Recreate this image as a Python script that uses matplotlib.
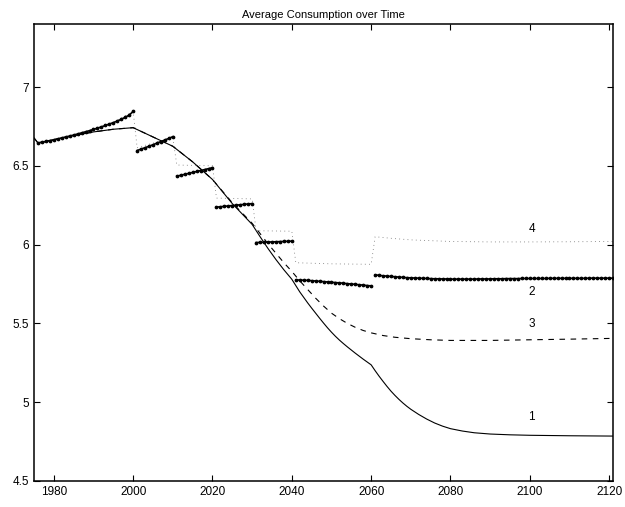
import numpy as np
import matplotlib.pyplot as plt

plt.rcParams['font.family'] = ['Liberation Sans', 'DejaVu Sans']

# series 1 (solid)
yr1 = [1975, 1976, 1980, 1985, 1990, 1995, 2000, 2005, 2010, 2015, 2020, 2025, 2030,
       2032, 2034, 2036, 2038, 2040, 2041, 2042, 2043, 2044, 2045, 2046, 2047, 2048, 2049,
       2050, 2051, 2052, 2053, 2054, 2055, 2056, 2057, 2058, 2059, 2060, 2061, 2062, 2063,
       2064, 2065, 2066, 2067, 2068, 2069, 2070, 2072, 2074, 2076, 2078, 2080, 2083, 2086,
       2090, 2095, 2100, 2110, 2121]
c1 = [6.677, 6.645, 6.665, 6.692, 6.715, 6.732, 6.742, 6.683, 6.624, 6.525, 6.413, 6.26, 6.128,
      6.05, 5.975, 5.905, 5.84, 5.78, 5.74, 5.70, 5.665, 5.630, 5.597, 5.565, 5.533, 5.502, 5.472,
      5.444, 5.418, 5.394, 5.372, 5.351, 5.331, 5.311, 5.292, 5.273, 5.255, 5.237, 5.20, 5.165, 5.132,
      5.10, 5.07, 5.043, 5.018, 4.995, 4.974, 4.955, 4.922, 4.893, 4.868, 4.848, 4.832, 4.817, 4.806,
      4.798, 4.793, 4.79, 4.787, 4.785]

# series 3 (dashed)
yr3 = [1975, 1976, 1980, 1985, 1990, 1995, 2000, 2005, 2010, 2015, 2020, 2025, 2030,
       2032, 2034, 2036, 2038, 2040, 2042, 2044, 2046, 2048, 2050, 2052, 2054, 2056, 2058,
       2060, 2063, 2066, 2070, 2075, 2080, 2090, 2100, 2110, 2121]
c3 = [6.677, 6.645, 6.665, 6.692, 6.715, 6.732, 6.742, 6.683, 6.624, 6.525, 6.413, 6.265, 6.135,
      6.07, 6.005, 5.945, 5.885, 5.83, 5.77, 5.715, 5.66, 5.61, 5.565, 5.53, 5.50, 5.475, 5.455,
      5.44, 5.423, 5.412, 5.403, 5.396, 5.392, 5.392, 5.396, 5.40, 5.405]

# series 4 (dotted)
yr4 = [1976, 1980, 1985, 1990, 1995, 2000, 2001, 2010, 2011, 2020, 2021, 2030, 2031, 2040,
       2041, 2050, 2060, 2061, 2065, 2070, 2080, 2090, 2100, 2110, 2121]
c4 = [6.645, 6.665, 6.695, 6.731, 6.774, 6.845, 6.615, 6.68, 6.505, 6.50, 6.295, 6.29, 6.088, 6.085,
      5.885, 5.878, 5.875, 6.05, 6.04, 6.03, 6.02, 6.017, 6.017, 6.018, 6.02]

# series 2 (dots), one segment per period
seg_start = [1976, 2001, 2011, 2021, 2031, 2041, 2061]
c2 = [
    [6.645, 6.650, 6.655, 6.660, 6.665, 6.671, 6.677, 6.683, 6.689, 6.695, 6.702, 6.709, 6.716,
     6.723, 6.731, 6.739, 6.747, 6.756, 6.765, 6.774, 6.784, 6.795, 6.808, 6.822, 6.845],
    [6.597, 6.606, 6.615, 6.624, 6.634, 6.644, 6.654, 6.664, 6.674, 6.685],
    [6.434, 6.440, 6.446, 6.452, 6.458, 6.464, 6.470, 6.476, 6.482, 6.488],
    [6.238, 6.240, 6.243, 6.245, 6.248, 6.250, 6.253, 6.255, 6.258, 6.260],
    [6.013, 6.014, 6.015, 6.016, 6.017, 6.018, 6.019, 6.020, 6.021, 6.022],
    [5.776, 5.775, 5.774, 5.773, 5.771, 5.769, 5.767, 5.765, 5.763, 5.761, 5.759, 5.757, 5.755,
     5.752, 5.750, 5.748, 5.745, 5.743, 5.740, 5.738],
    [5.808, 5.805, 5.802, 5.800, 5.798, 5.796, 5.794, 5.792, 5.790, 5.789, 5.788, 5.787, 5.786,
     5.785, 5.784, 5.783, 5.783, 5.782, 5.782, 5.781, 5.781, 5.781, 5.781, 5.781, 5.781, 5.781,
     5.782, 5.782, 5.782, 5.782, 5.783, 5.783, 5.783, 5.784, 5.784, 5.784, 5.784, 5.785, 5.785,
     5.785, 5.785, 5.785, 5.785, 5.785, 5.786, 5.786, 5.786, 5.786, 5.786, 5.786, 5.786, 5.786,
     5.786, 5.786, 5.787, 5.787, 5.787, 5.787, 5.787, 5.787, 5.787],
]

labels = ['1', '2', '3', '4']
label_x = 2100.5
label_y = [4.905, 5.70, 5.496, 6.10]

fig = plt.figure(figsize=(6.25, 5.07), dpi=100)
ax = fig.add_axes([0.0544, 0.0513, 0.9266, 0.9014])

ax.plot(yr1, c1, color='k', lw=0.8)
ax.plot(yr3, c3, color='k', lw=0.8, ls=(0, (5, 5)))
ax.plot(yr4, c4, color='0.45', lw=0.6, ls=(0, (1, 4)))
for s, vals in zip(seg_start, c2):
    ax.plot(np.arange(s, s + len(vals)), vals, ls='-', lw=1.2, marker='o', ms=1.7,
            color='k', mec='k')

for lab, ly in zip(labels, label_y):
    ax.text(label_x, ly, lab, ha='center', va='center', fontsize=8.5)

ax.set_xlim(1975, 2121)
ax.set_ylim(4.5, 7.4)
ax.set_xticks([1980, 2000, 2020, 2040, 2060, 2080, 2100, 2120])
ax.set_yticks([4.5, 5, 5.5, 6, 6.5, 7])
ax.set_yticklabels(['4.5', '5', '5.5', '6', '6.5', '7'])
ax.tick_params(direction='in', top=True, right=True, length=4, width=0.8, labelsize=8.5)
for sp in ax.spines.values():
    sp.set_linewidth(1.1)
ax.set_title('Average Consumption over Time', fontsize=8, pad=4)

fig.savefig('out.png', dpi=100)
